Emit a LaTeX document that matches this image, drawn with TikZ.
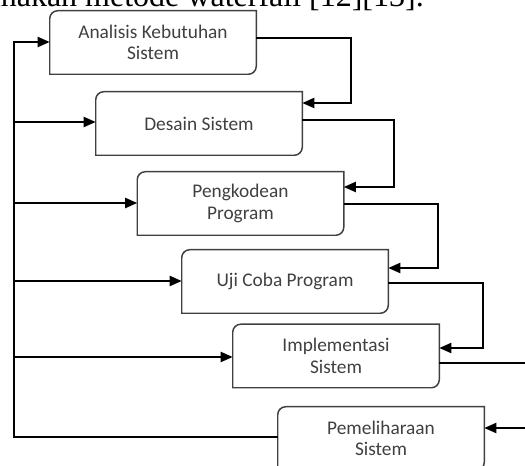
\documentclass[tikz,border=0pt]{standalone}
\usepackage{fontspec}
\setmainfont{Carlito}
\newfontfamily\headserif{Liberation Serif}
\usetikzlibrary{arrows.meta}
\newcommand\cornerbox[1]{%
  \draw[boxline] ([xshift=6pt]#1.north west) -- (#1.north east) -- ([yshift=6pt]#1.south east)
    arc[start angle=0,end angle=-90,radius=6pt] -- (#1.south west) -- ([yshift=-6pt]#1.north west)
    arc[start angle=180,end angle=90,radius=6pt] -- cycle;}
\begin{document}
\begin{tikzpicture}[x=0.75pt,y=-0.75pt,
  box/.style={minimum width=154.5pt, minimum height=47.25pt, inner sep=0pt, align=center,
    font=\fontsize{14.5}{16}\selectfont, text=black!75},
  boxline/.style={draw=black!75, line width=1.1pt},
  conn/.style={line width=1.5pt, draw=black},
  arr/.style={conn, -{Triangle[length=9pt,width=7.5pt]}}]
\useasboundingbox (0,0) rectangle (525,466);
\clip (0,0) rectangle (525,466);
\node[anchor=base east, font=\headserif\fontsize{24}{26}\selectfont, inner sep=0pt] (head) at (424,7)
  {menggunakan metode waterfall [12][13].};

\node[box] (b1) at (153,42.5) {Analisis Kebutuhan\\Sistem};
\node[box] (b2) at (199,123.5) {Desain Sistem};
\node[box] (b3) at (240.5,203.5) {Pengkodean\\Program};
\node[box] (b4) at (285,281.5) {Uji Coba Program};
\node[box] (b5) at (336,356) {Implementasi\\Sistem};
\node[box] (b6) at (381,438.5) {Pemeliharaan\\Sistem};
\foreach \n in {b1,b2,b3,b4,b5,b6} {\cornerbox{\n}}

\coordinate (out) at (530,363);
\coordinate (in) at (530,428);

% forward flow
\draw[arr] (b1.east |- 0,38) -| (351,103) -- (b2.east |- 0,103);
\draw[arr] (b2.east |- 0,120) -| (394,187) -- (b3.east |- 0,187);
\draw[arr] (b3.east |- 0,204) -| (438,268) -- (b4.east |- 0,268);
\draw[arr] (b4.east |- 0,283) -| (483,348) -- (b5.east |- 0,348);
\draw[conn] (b5.east |- 0,363) -- (out);
\draw[arr] (in) -- (b6.east |- 0,428);

% feedback bus
\draw[arr] (b6.west |- 0,437) -| (14,42) -- (b1.west |- 0,42);
\draw[arr] (14,122) -- (b2.west |- 0,122);
\draw[arr] (14,203) -- (b3.west |- 0,203);
\draw[arr] (14,281) -- (b4.west |- 0,281);
\draw[arr] (14,357) -- (b5.west |- 0,357);
\end{tikzpicture}
\end{document}
